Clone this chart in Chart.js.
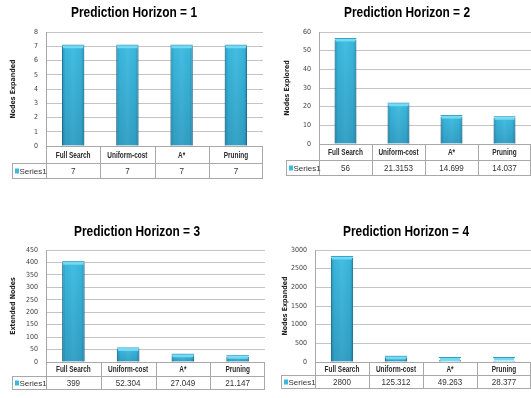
<!DOCTYPE html>
<html>
<head>
<meta charset="utf-8">
<script src="https://cdn.jsdelivr.net/npm/chart.js@4.4.1/dist/chart.umd.min.js"></script>
<style>
  html, body { margin: 0; padding: 0; background: #ffffff; }
  #wrap { position: relative; width: 531px; height: 398px; overflow: hidden; background: #ffffff; }
  canvas { position: absolute; display: block; }
</style>
</head>
<body>
<div id="wrap">
  <canvas id="h1" width="265" height="199" style="left:0;top:0"></canvas>
  <canvas id="h2" width="266" height="199" style="left:265px;top:0"></canvas>
  <canvas id="h3" width="265" height="199" style="left:0;top:199px"></canvas>
  <canvas id="h4" width="266" height="199" style="left:265px;top:199px"></canvas>
</div>
<script>
// ---- data ----
const categories = ['Full Search', 'Uniform-cost', 'A*', 'Pruning'];
const seriesName = 'Series1';
const horizonTitles = ['Prediction Horizon = 1', 'Prediction Horizon = 2', 'Prediction Horizon = 3', 'Prediction Horizon = 4'];
const yAxisTitles = ['Nodes Expanded', 'Nodes Explored', 'Extended Nodes', 'Nodes Expanded'];
const horizon1Values = [7, 7, 7, 7];
const horizon2Values = [56, 21.3153, 14.699, 14.037];
const horizon3Values = [399, 52.304, 27.049, 21.147];
const horizon4Values = [2800, 125.312, 49.263, 28.377];
const yMaxValues = [8, 60, 450, 3000];
const yStepValues = [1, 10, 50, 500];

// ---- styling ----
const SANS = "'Liberation Sans', Arial, sans-serif";
const NARROW = "'DejaVu Sans Condensed', 'Liberation Sans', sans-serif";
const BAR_FILL = '#3bbae0';
const BAR_EDGE = '#2b8fb4';
const BAR_CAP = '#72daf3';
const GRID = '#c4c4c4';
const TABLE_LINE = '#a8a8a8';

// per-chart layout: padding, axis width, title placement, table row heights
const layouts = [
  { padL: 7,  padR: 2, padT: 32, padB: 53, axisW: 39, ytPad: 2, titleX: 134, titleY: 13, headH: 17, rowH: 15, tableLeft: 34 },
  { padL: 18, padR: 0, padT: 32, padB: 55, axisW: 36, ytPad: 0, titleX: 142, titleY: 13, headH: 16, rowH: 15, tableLeft: 33 },
  { padL: 9,  padR: 0, padT: 51, padB: 36, axisW: 37, ytPad: 0, titleX: 137, titleY: 33, headH: 14, rowH: 13, tableLeft: 34 },
  { padL: 16, padR: 0, padT: 51, padB: 36, axisW: 34, ytPad: 0, titleX: 141, titleY: 33, headH: 13, rowH: 13, tableLeft: 34 }
];

// draw text squeezed horizontally by sx around (x, y)
function narrowText(ctx, text, x, y, sx) {
  ctx.save();
  ctx.translate(x, y);
  ctx.scale(sx, 1);
  ctx.fillText(text, 0, 0);
  ctx.restore();
}

// Chart heading in a condensed bold face, fitted to a fixed width
const headingPlugin = {
  id: 'heading',
  afterDraw(chart, args, opts) {
    const { ctx } = chart;
    ctx.save();
    ctx.font = 'bold 15px ' + SANS;
    ctx.fillStyle = '#000000';
    ctx.textAlign = 'center';
    ctx.textBaseline = 'middle';
    const sx = opts.width / ctx.measureText(opts.text).width;
    narrowText(ctx, opts.text, opts.x, opts.y, sx);
    ctx.restore();
  }
};

// Data table under the plot: category header row + series value row
const dataTablePlugin = {
  id: 'dataTable',
  afterDraw(chart, args, opts) {
    const { ctx, chartArea } = chart;
    const xs = chart.scales.x;
    const n = chart.data.labels.length;
    const left = chartArea.left, right = chartArea.right;
    const colW = (right - left) / n;
    const y0 = chartArea.bottom;
    const y1 = y0 + opts.headH;
    const y2 = y1 + opts.rowH;
    const tl = left - opts.tableLeft;
    ctx.save();
    ctx.strokeStyle = TABLE_LINE;
    ctx.lineWidth = 1;
    ctx.beginPath();
    ctx.moveTo(left, Math.round(y0) + 0.5); ctx.lineTo(right, Math.round(y0) + 0.5);
    ctx.moveTo(tl, Math.round(y1) + 0.5); ctx.lineTo(right, Math.round(y1) + 0.5);
    ctx.moveTo(tl, Math.round(y2) + 0.5); ctx.lineTo(right, Math.round(y2) + 0.5);
    for (let i = 0; i <= n; i++) {
      const x = Math.round(left + i * colW) - (i === n ? 0.5 : -0.5);
      ctx.moveTo(x, y0); ctx.lineTo(x, y2 + 0.5);
    }
    ctx.moveTo(tl + 0.5, y1); ctx.lineTo(tl + 0.5, y2 + 0.5);
    ctx.stroke();

    ctx.textAlign = 'center';
    ctx.textBaseline = 'middle';
    const vals = chart.data.datasets[0].data;
    for (let i = 0; i < n; i++) {
      const cx = xs.getPixelForValue(i);
      ctx.fillStyle = '#2a2a2a';
      ctx.font = 'bold 8.5px ' + SANS;
      narrowText(ctx, chart.data.labels[i], cx, (y0 + y1) / 2 + 1, 0.76);
      ctx.fillStyle = '#333333';
      ctx.font = '8.5px ' + SANS;
      narrowText(ctx, String(vals[i]), cx, (y1 + y2) / 2 + 1, 0.95);
    }
    ctx.fillStyle = BAR_FILL;
    ctx.fillRect(tl + 3, (y1 + y2) / 2 - 2, 4, 5);
    ctx.fillStyle = '#333333';
    ctx.textAlign = 'left';
    ctx.font = '8px ' + SANS;
    ctx.fillText(chart.data.datasets[0].label, tl + 7.5, (y1 + y2) / 2 + 1);
    ctx.restore();
  }
};

// Shading of the bars: darker sides, darker base and a light top cap
const barShadePlugin = {
  id: 'barShade',
  afterDatasetsDraw(chart) {
    const { ctx } = chart;
    chart.getDatasetMeta(0).data.forEach((bar) => {
      const { x, y, base, width } = bar.getProps(['x', 'y', 'base', 'width'], true);
      const l = x - width / 2;
      const h = base - y;
      ctx.save();
      const hg = ctx.createLinearGradient(l, 0, l + width, 0);
      hg.addColorStop(0, 'rgba(0,60,90,0.30)');
      hg.addColorStop(0.15, 'rgba(0,60,90,0.03)');
      hg.addColorStop(0.5, 'rgba(255,255,255,0.05)');
      hg.addColorStop(0.85, 'rgba(0,60,90,0.03)');
      hg.addColorStop(1, 'rgba(0,60,90,0.30)');
      ctx.fillStyle = hg;
      ctx.fillRect(l, y, width, h);
      if (h > 2) {
        const vg = ctx.createLinearGradient(0, y, 0, base);
        vg.addColorStop(0, 'rgba(0,40,70,0)');
        vg.addColorStop(1, 'rgba(0,40,70,0.18)');
        ctx.fillStyle = vg;
        ctx.fillRect(l, y, width, h);
      }
      const capY = Math.min(y, base - 3) - 1;
      ctx.fillStyle = '#2f9fc6';
      ctx.fillRect(l, capY - 0.5, width, 1);
      ctx.fillStyle = BAR_CAP;
      ctx.fillRect(l + 1, capY + 0.5, width - 2, 2.5);
      ctx.restore();
    });
  }
};

function buildChart(id, idx, values) {
  const lay = layouts[idx];
  return new Chart(document.getElementById(id), {
    type: 'bar',
    data: {
      labels: categories,
      datasets: [{
        label: seriesName,
        data: values,
        backgroundColor: BAR_FILL,
        borderColor: BAR_EDGE,
        borderWidth: { left: 1, right: 1, top: 0, bottom: 0 },
        borderSkipped: 'bottom',
        barPercentage: 0.41,
        categoryPercentage: 1
      }]
    },
    options: {
      responsive: false,
      animation: false,
      devicePixelRatio: 1,
      layout: { padding: { left: lay.padL, right: lay.padR, top: lay.padT, bottom: lay.padB } },
      plugins: {
        legend: { display: false },
        tooltip: { enabled: false },
        title: { display: false },
        heading: { text: horizonTitles[idx], x: lay.titleX, y: lay.titleY, width: 126 },
        dataTable: { headH: lay.headH, rowH: lay.rowH, tableLeft: lay.tableLeft }
      },
      scales: {
        x: {
          ticks: { display: false },
          grid: { display: false, drawTicks: false },
          border: { display: false }
        },
        y: {
          min: 0,
          max: yMaxValues[idx],
          ticks: {
            stepSize: yStepValues[idx],
            padding: 8,
            color: '#404040',
            font: { family: NARROW, size: 7 },
            callback: (v) => String(v)
          },
          grid: { color: GRID, drawTicks: false },
          border: { color: TABLE_LINE },
          title: {
            display: true,
            text: yAxisTitles[idx],
            color: '#262626',
            font: { family: NARROW, size: 7, weight: 'bold' },
            padding: { top: lay.ytPad, bottom: 0 }
          },
          afterFit(scale) { scale.width = lay.axisW; }
        }
      }
    },
    plugins: [barShadePlugin, dataTablePlugin, headingPlugin]
  });
}

buildChart('h1', 0, horizon1Values);
buildChart('h2', 1, horizon2Values);
buildChart('h3', 2, horizon3Values);
buildChart('h4', 3, horizon4Values);
</script>
</body>
</html>
